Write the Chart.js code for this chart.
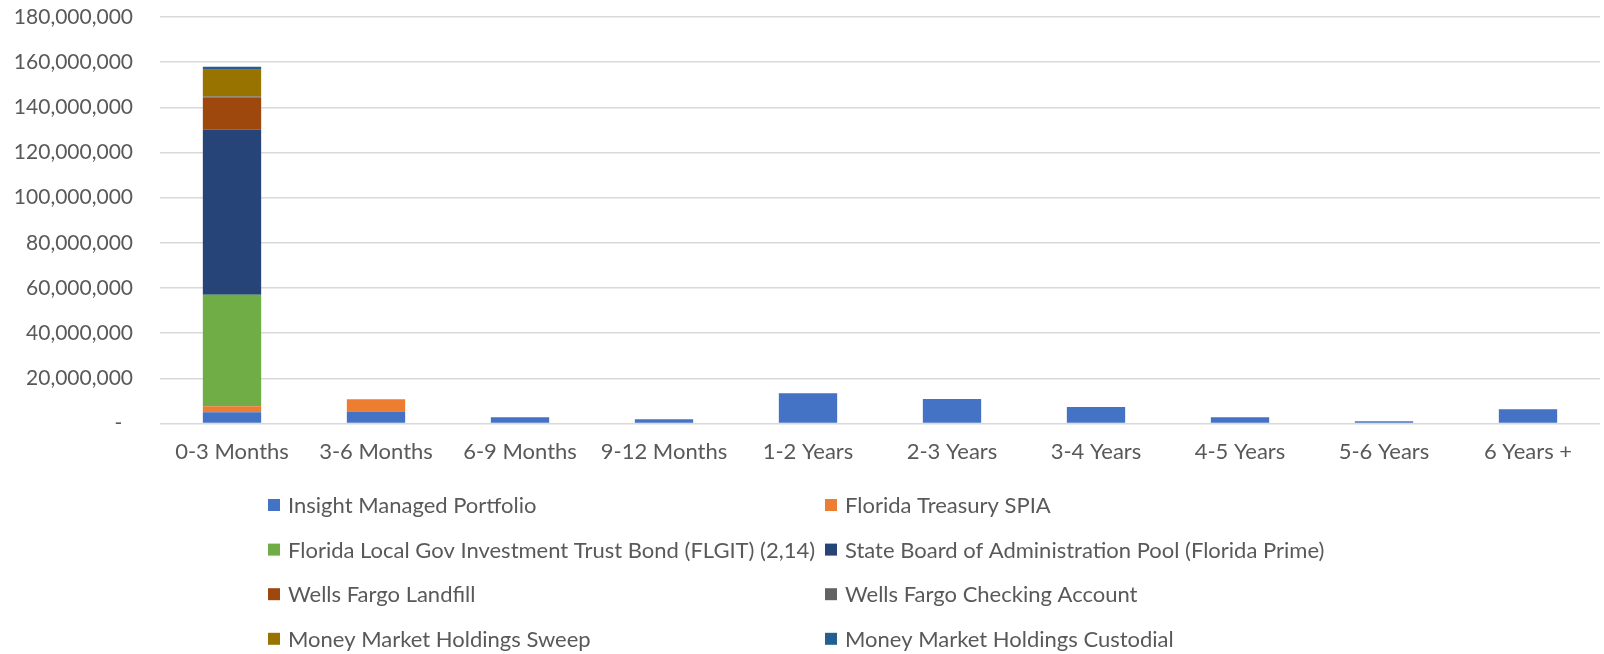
<!DOCTYPE html>
<html>
<head>
<meta charset="utf-8">
<script src="https://cdn.jsdelivr.net/npm/chart.js@4.4.0/dist/chart.umd.min.js"></script>
<style>
html, body { margin: 0; padding: 0; background: #fff; }
#wrap { width: 1604px; height: 654px; }
</style>
</head>
<body>
<div id="wrap"><canvas id="myChart"></canvas></div>
<script>
var categories = ["0-3 Months", "3-6 Months", "6-9 Months", "9-12 Months", "1-2 Years",
                  "2-3 Years", "3-4 Years", "4-5 Years", "5-6 Years", "6 Years +"];

// values in dollars
var insightManaged = [5000000, 5400000, 2800000, 1900000, 13400000, 10900000, 7300000, 2800000, 1000000, 6300000];
var floridaSpia    = [2650000, 5400000, 0, 0, 0, 0, 0, 0, 0, 0];
var flgit          = [49400000, 0, 0, 0, 0, 0, 0, 0, 0, 0];
var sbaPool        = [73000000, 0, 0, 0, 0, 0, 0, 0, 0, 0];
var wfLandfill     = [14200000, 0, 0, 0, 0, 0, 0, 0, 0, 0];
var wfChecking     = [600000, 0, 0, 0, 0, 0, 0, 0, 0, 0];
var mmSweep        = [11800000, 0, 0, 0, 0, 0, 0, 0, 0, 0];
var mmCustodial    = [1300000, 0, 0, 0, 0, 0, 0, 0, 0, 0];

var yTicks = { min: 0, max: 180000000, step: 20000000 };

var FONT = "Lato";
var TEXT = "#595959";

// two-column legend like the Excel one
var gridLegend = {
  id: 'gridLegend',
  afterDraw: function(chart) {
    var ctx = chart.ctx;
    ctx.save();
    ctx.font = '22px ' + FONT;
    ctx.textBaseline = 'middle';
    chart.data.datasets.forEach(function(ds, i) {
      var col = i % 2, row = Math.floor(i / 2);
      var x = col == 0 ? 268 : 825;
      var y = 505 + row * 44.6;
      ctx.fillStyle = ds.backgroundColor;
      ctx.fillRect(x, y - 6, 12, 12);
      ctx.fillStyle = TEXT;
      ctx.fillText(ds.label, x + 20, y + 1);
    });
    ctx.restore();
  }
};

var ctx = document.getElementById("myChart").getContext('2d');
var myChart = new Chart(ctx, {
  type: 'bar',
  data: {
    labels: categories,
    datasets: [
      { label: "Insight Managed Portfolio", data: insightManaged, backgroundColor: "#4472C4" },
      { label: "Florida Treasury SPIA", data: floridaSpia, backgroundColor: "#ED7D31" },
      { label: "Florida Local Gov Investment Trust Bond (FLGIT) (2,14)", data: flgit, backgroundColor: "#70AD47" },
      { label: "State Board of Administration Pool (Florida Prime)", data: sbaPool, backgroundColor: "#264478" },
      { label: "Wells Fargo Landfill", data: wfLandfill, backgroundColor: "#9E480E" },
      { label: "Wells Fargo Checking Account", data: wfChecking, backgroundColor: "#636363" },
      { label: "Money Market Holdings Sweep", data: mmSweep, backgroundColor: "#997300" },
      { label: "Money Market Holdings Custodial", data: mmCustodial, backgroundColor: "#255E91" }
    ]
  },
  options: {
    responsive: true,
    maintainAspectRatio: false,
    animation: false,
    layout: { padding: { left: 12, right: 4, top: 0, bottom: 182 } },
    datasets: { bar: { categoryPercentage: 1, barPercentage: 0.405 } },
    plugins: {
      legend: { display: false },
      tooltip: { enabled: false }
    },
    scales: {
      x: {
        stacked: true,
        grid: { display: false },
        border: { display: false },
        ticks: { color: TEXT, font: { family: FONT, size: 22 }, padding: 7, maxRotation: 0 }
      },
      y: {
        stacked: true,
        min: yTicks.min,
        max: yTicks.max,
        grid: { color: "#d9d9d9", lineWidth: 1.5, drawTicks: false },
        border: { display: false },
        // fixed width, and don't let the tick padding push the top down
        afterFit: function(axis) { axis.width = 148; axis.paddingTop = 17; },
        ticks: {
          stepSize: yTicks.step,
          color: TEXT,
          font: { family: FONT, size: 21 },
          padding: 27,
          callback: function(v) { return v === 0 ? '-  ' : v.toLocaleString('en-US'); }
        }
      }
    }
  },
  plugins: [gridLegend]
});
</script>
</body>
</html>
